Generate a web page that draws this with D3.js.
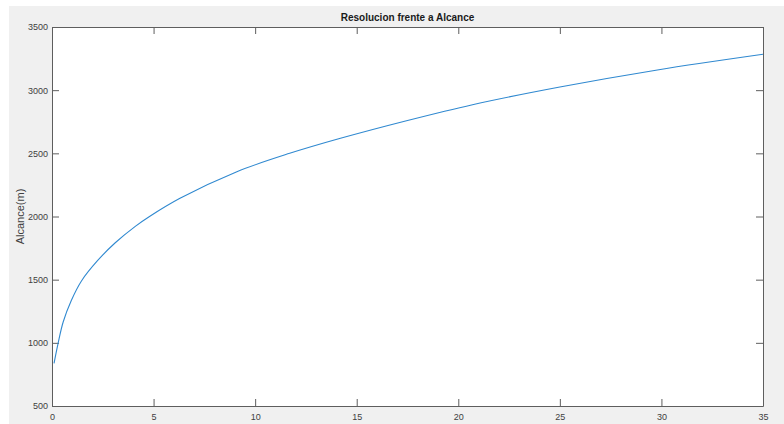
<!DOCTYPE html>
<html>
<head>
<meta charset="utf-8">
<script src="https://cdn.jsdelivr.net/npm/d3@7"></script>
<style>
  html, body { margin: 0; padding: 0; background: #ffffff; }
  svg { display: block; }
</style>
</head>
<body>
<svg id="chart" width="784" height="424"></svg>
<script>
// Resolution (x) against range in metres (y)
const resolucion = [0.1, 0.3, 0.55, 0.95, 1.45, 2.25, 3.1, 4.1, 4.8, 6.3, 9.1, 11.7, 14.2, 17.5, 20.7, 25, 29.8, 35];
const alcance = [838, 996, 1165, 1335, 1490, 1652, 1790, 1922, 2000, 2144, 2355, 2500, 2619, 2760, 2885, 3025, 3160, 3284];
const xTicks = [0, 5, 10, 15, 20, 25, 30, 35];
const yTicks = [500, 1000, 1500, 2000, 2500, 3000, 3500];
const titulo = "Resolucion frente a Alcance";
const etiquetaY = "Alcance(m)";

const svg = d3.select("#chart");
const W = 784, H = 424;
const box = { left: 52, top: 27, right: 763, bottom: 406 };

// figure background
svg.append("rect").attr("x", 9).attr("y", 6).attr("width", W - 9).attr("height", H - 6).attr("fill", "#f0f0f0");

const x = d3.scaleLinear().domain([0, 35]).range([box.left, box.right]);
const y = d3.scaleLinear().domain([500, 3500]).range([box.bottom, box.top]);

// plot area
svg.append("rect")
  .attr("x", box.left).attr("y", box.top)
  .attr("width", box.right - box.left).attr("height", box.bottom - box.top)
  .attr("fill", "#ffffff");

const axisColor = "#5e5e5e";
const labelColor = "#404040";
const font = "'Liberation Sans', Arial, Helvetica, sans-serif";

function styleAxis(g, showLabels) {
  g.select(".domain").attr("stroke", axisColor).attr("stroke-width", 1);
  g.selectAll(".tick line").attr("stroke", axisColor);
  g.selectAll(".tick text")
    .attr("fill", labelColor)
    .style("font-family", font)
    .style("font-size", "9px")
    .attr("display", showLabels ? null : "none");
}

// bottom axis with inward ticks
svg.append("g")
  .attr("transform", `translate(0,${box.bottom})`)
  .call(d3.axisBottom(x).tickValues(xTicks).tickSize(-7).tickSizeOuter(0).tickPadding(8).tickFormat(d3.format("d")))
  .call(g => styleAxis(g, true));

// top axis (box)
svg.append("g")
  .attr("transform", `translate(0,${box.top})`)
  .call(d3.axisTop(x).tickValues(xTicks).tickSize(-7).tickSizeOuter(0).tickFormat(""))
  .call(g => styleAxis(g, false));

// left axis
svg.append("g")
  .attr("transform", `translate(${box.left},0)`)
  .call(d3.axisLeft(y).tickValues(yTicks).tickSize(-7).tickSizeOuter(0).tickPadding(4).tickFormat(d3.format("d")))
  .call(g => styleAxis(g, true));

// right axis (box)
svg.append("g")
  .attr("transform", `translate(${box.right},0)`)
  .call(d3.axisRight(y).tickValues(yTicks).tickSize(-7).tickSizeOuter(0).tickFormat(""))
  .call(g => styleAxis(g, false));

// data line
const line = d3.line()
  .x((d, i) => x(resolucion[i]))
  .y(d => y(d))
  .curve(d3.curveCatmullRom.alpha(0.5));

svg.append("path")
  .datum(alcance)
  .attr("d", line)
  .attr("fill", "none")
  .attr("stroke", "#3089d0")
  .attr("stroke-width", 1.1);

// title
svg.append("text")
  .attr("x", (box.left + box.right) / 2)
  .attr("y", 21)
  .attr("text-anchor", "middle")
  .attr("fill", "#1a1a1a")
  .style("font-family", font)
  .style("font-size", "10px")
  .style("font-weight", "bold")
  .text(titulo);

// y label
svg.append("text")
  .attr("transform", `translate(24,${(box.top + box.bottom) / 2}) rotate(-90)`)
  .attr("text-anchor", "middle")
  .attr("fill", labelColor)
  .style("font-family", font)
  .style("font-size", "11px")
  .text(etiquetaY);
</script>
</body>
</html>
